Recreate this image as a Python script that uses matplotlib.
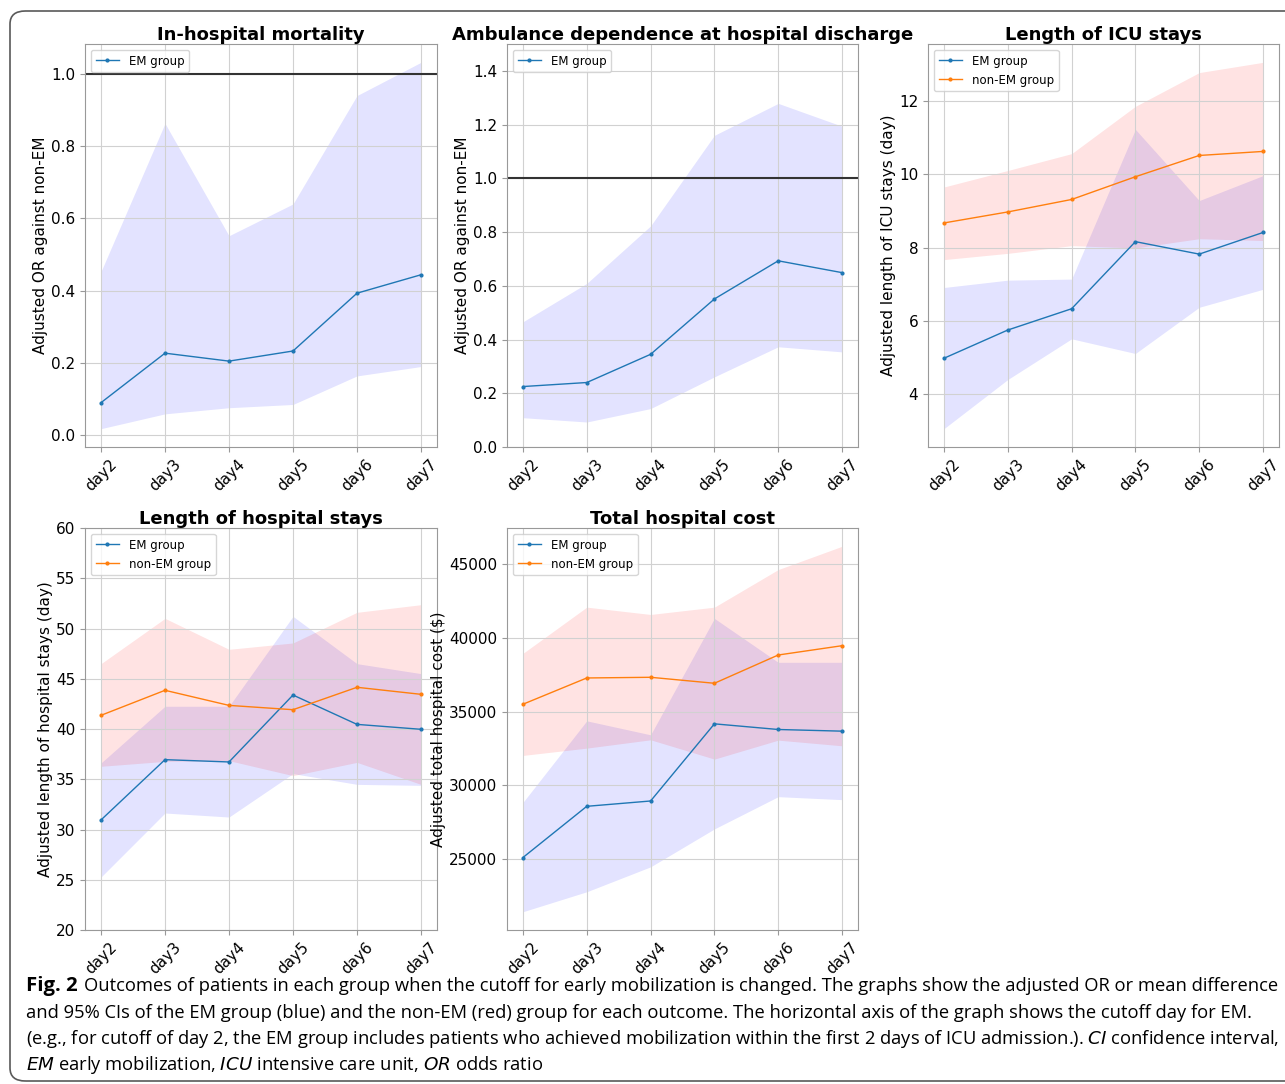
import numpy as np
import matplotlib
matplotlib.use('Agg')
import matplotlib.pyplot as plt
from matplotlib.patches import FancyBboxPatch

# cutoff days on the x axis
days = ['day2', 'day3', 'day4', 'day5', 'day6', 'day7']

# In-hospital mortality (adjusted OR, EM vs non-EM)
mort_em = [0.090, 0.227, 0.205, 0.233, 0.393, 0.444]
mort_em_lo = [0.018, 0.059, 0.076, 0.085, 0.164, 0.190]
mort_em_hi = [0.453, 0.863, 0.552, 0.640, 0.940, 1.032]

# Ambulance dependence at discharge (adjusted OR)
amb_em = [0.225, 0.240, 0.345, 0.551, 0.693, 0.649]
amb_em_lo = [0.109, 0.093, 0.143, 0.261, 0.373, 0.354]
amb_em_hi = [0.466, 0.609, 0.823, 1.160, 1.279, 1.194]

# Length of ICU stays (day)
icu_em = [4.98, 5.75, 6.33, 8.16, 7.82, 8.41]
icu_em_lo = [3.06, 4.40, 5.51, 5.11, 6.37, 6.86]
icu_em_hi = [6.91, 7.11, 7.14, 11.22, 9.28, 9.96]
icu_non = [8.67, 8.97, 9.31, 9.93, 10.51, 10.62]
icu_non_lo = [7.67, 7.84, 8.05, 7.99, 8.24, 8.19]
icu_non_hi = [9.65, 10.10, 10.56, 11.85, 12.77, 13.05]

# Length of hospital stays (day)
hos_em = [30.95, 36.95, 36.72, 43.38, 40.46, 39.97]
hos_em_lo = [25.27, 31.64, 31.24, 35.56, 34.49, 34.39]
hos_em_hi = [36.62, 42.26, 42.26, 51.21, 46.50, 45.51]
hos_non = [41.36, 43.85, 42.35, 41.92, 44.15, 43.45]
hos_non_lo = [36.29, 36.78, 36.85, 35.36, 36.68, 34.49]
hos_non_hi = [46.50, 51.01, 47.93, 48.56, 51.61, 52.37]

# Total hospital cost ($)
cost_em = [25113, 28585, 28946, 34177, 33794, 33681]
cost_em_lo = [21437, 22790, 24481, 27052, 29239, 29036]
cost_em_hi = [28856, 34380, 33433, 41325, 38348, 38348]
cost_non = [35507, 37288, 37334, 36928, 38845, 39476]
cost_non_lo = [32035, 32531, 33095, 31787, 33072, 32689]
cost_non_hi = [38957, 42091, 41595, 42091, 44639, 46218]

plt.rcParams['axes.edgecolor'] = '0.6'
plt.rcParams['grid.color'] = '0.82'

W, H = 1285, 1084
fig = plt.figure(figsize=(W / 100, H / 100), dpi=100)


def px_axes(left, top, right, bottom):
    """axes from pixel box of the reference"""
    return fig.add_axes([left / W, 1 - bottom / H, (right - left) / W, (bottom - top) / H])


def panel(ax, title, ylabel, em, em_lo, em_hi, non=None, non_lo=None, non_hi=None, ref=False):
    ax.fill_between(days, em_lo, em_hi, color='blue', alpha=0.11, lw=0)
    ax.plot(days, em, '.-', color='C0', lw=1, ms=4, label='EM group')
    if non is not None:
        ax.fill_between(days, non_lo, non_hi, color='red', alpha=0.11, lw=0)
        ax.plot(days, non, '.-', color='C1', lw=1, ms=4, label='non-EM group')
    if ref:
        ax.axhline(1.0, color='#333333', lw=1.5)
    ax.set_title(title, fontsize=13, fontweight='bold', pad=3)
    ax.set_ylabel(ylabel, fontsize=11, labelpad=2)
    ax.grid(True)
    ax.tick_params(axis='both', labelsize=11, color='0.6')
    ax.tick_params(axis='x', labelrotation=45)
    ax.legend(loc='upper left', fontsize=8.5, framealpha=0.8)


ax1 = px_axes(85, 44, 437, 447)
panel(ax1, 'In-hospital mortality', 'Adjusted OR against non-EM',
      mort_em, mort_em_lo, mort_em_hi, ref=True)

ax2 = px_axes(507, 44, 858, 447)
panel(ax2, 'Ambulance dependence at hospital discharge', 'Adjusted OR against non-EM',
      amb_em, amb_em_lo, amb_em_hi, ref=True)
ax2.set_ylim(0, 1.5)

ax3 = px_axes(928, 44, 1279, 447)
panel(ax3, 'Length of ICU stays', 'Adjusted length of ICU stays (day)',
      icu_em, icu_em_lo, icu_em_hi, icu_non, icu_non_lo, icu_non_hi)

ax4 = px_axes(85, 528, 437, 930)
panel(ax4, 'Length of hospital stays', 'Adjusted length of hospital stays (day)',
      hos_em, hos_em_lo, hos_em_hi, hos_non, hos_non_lo, hos_non_hi)
ax4.set_ylim(20, 60)

ax5 = px_axes(507, 528, 858, 930)
panel(ax5, 'Total hospital cost', 'Adjusted total hospital cost ($)',
      cost_em, cost_em_lo, cost_em_hi, cost_non, cost_non_lo, cost_non_hi)

# journal frame around the figure (right side runs off the page)
frame = FancyBboxPatch((10 / W, 1 - 1081 / H), 1320 / W, 1070 / H,
                       boxstyle='round,pad=0,rounding_size=0.012',
                       transform=fig.transFigure, fill=False, ec='0.35', lw=1.2)
fig.patches.append(frame)

cap_font = ['Open Sans', 'DejaVu Sans']
cap_size = 13.2
lines = [
    'Outcomes of patients in each group when the cutoff for early mobilization is changed. The graphs show the adjusted OR or mean difference',
    'and 95% CIs of the EM group (blue) and the non-EM (red) group for each outcome. The horizontal axis of the graph shows the cutoff day for EM.',
    '(e.g., for cutoff of day 2, the EM group includes patients who achieved mobilization within the first 2 days of ICU admission.). $\\it{CI}$ confidence interval,',
]
ys = [986, 1013, 1039, 1065]
fig.text(26 / W, 1 - ys[0] / H, 'Fig. 2', fontsize=cap_size + 1.5, fontweight='bold',
         family=cap_font, va='center')
fig.text(84 / W, 1 - ys[0] / H, lines[0], fontsize=cap_size, family=cap_font, va='center')
fig.text(26 / W, 1 - ys[1] / H, lines[1], fontsize=cap_size, family=cap_font, va='center')
fig.text(26 / W, 1 - ys[2] / H, lines[2], fontsize=cap_size, family=cap_font, va='center')
fig.text(26 / W, 1 - ys[3] / H,
         '$\\it{EM}$ early mobilization, $\\it{ICU}$ intensive care unit, $\\it{OR}$ odds ratio',
         fontsize=cap_size, family=cap_font, va='center')

fig.savefig('out.png', dpi=100)
